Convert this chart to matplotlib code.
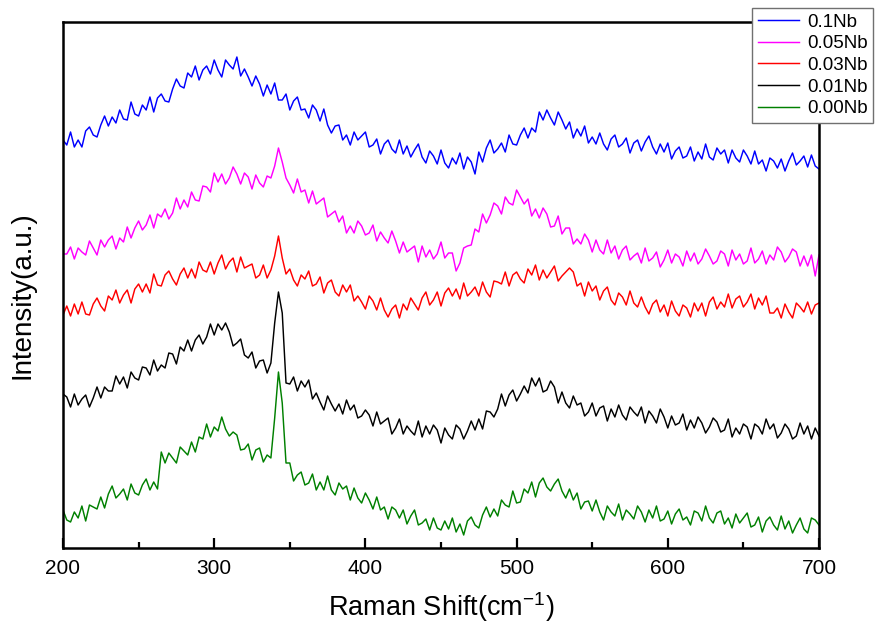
import numpy as np
import matplotlib
matplotlib.use("Agg")
import matplotlib.pyplot as plt
from matplotlib.ticker import MultipleLocator

plt.rcParams['font.family'] = ['Liberation Sans', 'DejaVu Sans']
plt.rcParams['mathtext.fontset'] = 'custom'
plt.rcParams['mathtext.rm'] = 'Liberation Sans'
plt.rcParams['mathtext.it'] = 'Liberation Sans'

# Raman shift axis (cm^-1), one sample every 2.5 cm^-1
shift = np.arange(200, 700.1, 2.5)

nb_010 = [408, 403, 416, 401, 408, 401, 417, 421, 413, 411,
          423, 432, 422, 431, 425, 438, 429, 428, 446, 434,
          432, 443, 438, 451, 436, 450, 454, 447, 446, 459,
          469, 462, 460, 475, 471, 482, 468, 478, 482, 474,
          488, 478, 471, 488, 483, 479, 491, 472, 479, 471,
          462, 472, 464, 452, 463, 454, 465, 448, 448, 454,
          438, 447, 451, 438, 439, 430, 443, 438, 427, 439,
          423, 415, 422, 423, 408, 413, 403, 416, 408, 412,
          416, 401, 403, 409, 394, 404, 408, 399, 395, 408,
          394, 402, 391, 398, 404, 391, 385, 397, 392, 384,
          398, 385, 380, 390, 384, 395, 379, 391, 386, 374,
          396, 386, 400, 408, 395, 399, 405, 396, 413, 404,
          403, 413, 420, 410, 420, 416, 436, 428, 438, 430,
          423, 436, 428, 419, 426, 410, 419, 412, 422, 405,
          411, 404, 415, 404, 398, 409, 413, 401, 404, 410,
          395, 405, 408, 397, 406, 412, 401, 394, 404, 396,
          405, 389, 397, 401, 390, 392, 401, 387, 396, 389,
          404, 391, 388, 400, 394, 398, 385, 398, 390, 386,
          398, 392, 384, 397, 384, 388, 377, 390, 387, 380,
          389, 377, 387, 395, 383, 387, 392, 381, 393, 382,
          379]

nb_005 = [294, 294, 301, 289, 300, 296, 293, 307, 300, 293,
          308, 301, 308, 312, 299, 310, 306, 321, 310, 320,
          327, 318, 323, 333, 320, 334, 331, 339, 329, 335,
          350, 339, 348, 341, 356, 348, 347, 362, 361, 356,
          375, 366, 374, 364, 370, 381, 374, 364, 375, 371,
          359, 373, 365, 361, 372, 370, 382, 400, 386, 370,
          363, 355, 369, 356, 358, 345, 357, 344, 347, 350,
          331, 334, 337, 326, 332, 315, 322, 315, 327, 322,
          313, 315, 323, 307, 316, 310, 305, 317, 307, 295,
          306, 296, 299, 302, 286, 302, 291, 298, 289, 294,
          306, 290, 295, 295, 277, 285, 300, 302, 303, 319,
          316, 334, 325, 333, 345, 342, 334, 351, 345, 343,
          358, 351, 344, 349, 332, 339, 330, 340, 334, 321,
          322, 332, 314, 320, 320, 304, 309, 304, 314, 308,
          296, 308, 298, 294, 308, 295, 302, 289, 298, 302,
          288, 292, 295, 285, 300, 287, 290, 296, 281, 288,
          298, 285, 294, 291, 282, 297, 287, 295, 284, 289,
          299, 292, 284, 287, 297, 294, 282, 298, 288, 294,
          284, 287, 300, 285, 289, 297, 284, 293, 288, 301,
          296, 286, 291, 299, 296, 282, 292, 282, 293, 272,
          293]

nb_003 = [233, 242, 232, 244, 234, 246, 234, 233, 244, 250,
          242, 237, 252, 248, 258, 245, 253, 258, 245, 259,
          264, 256, 264, 255, 274, 263, 262, 273, 277, 269,
          263, 274, 280, 270, 279, 270, 286, 278, 276, 286,
          274, 285, 293, 279, 286, 290, 276, 291, 280, 282,
          284, 270, 273, 283, 270, 278, 292, 312, 290, 274,
          279, 268, 262, 273, 269, 277, 262, 264, 271, 255,
          265, 268, 256, 252, 263, 256, 263, 247, 252, 246,
          239, 252, 247, 238, 250, 238, 231, 239, 243, 230,
          244, 238, 250, 244, 238, 250, 256, 243, 248, 256,
          242, 255, 260, 252, 259, 249, 265, 252, 256, 261,
          252, 266, 256, 251, 267, 266, 264, 276, 262, 273,
          276, 269, 265, 279, 273, 283, 268, 278, 270, 276,
          282, 267, 272, 276, 280, 276, 262, 265, 252, 266,
          257, 262, 248, 257, 261, 248, 243, 255, 251, 243,
          257, 245, 241, 251, 241, 234, 244, 248, 236, 243,
          232, 247, 237, 232, 243, 240, 231, 245, 237, 245,
          232, 246, 251, 239, 246, 241, 254, 240, 249, 252,
          241, 246, 254, 239, 250, 243, 252, 235, 235, 240,
          230, 244, 236, 230, 245, 241, 236, 246, 234, 243,
          245]

nb_001 = [154, 151, 141, 154, 143, 149, 153, 141, 150, 161,
          150, 161, 157, 157, 172, 164, 171, 160, 176, 170,
          168, 181, 180, 173, 188, 177, 183, 180, 195, 194,
          184, 201, 197, 208, 197, 208, 213, 204, 211, 224,
          213, 224, 218, 225, 216, 202, 205, 209, 193, 190,
          196, 180, 187, 188, 175, 185, 225, 256, 235, 165,
          164, 171, 157, 167, 161, 168, 149, 155, 146, 138,
          152, 144, 137, 144, 134, 148, 138, 143, 130, 132,
          138, 133, 122, 136, 124, 127, 130, 114, 120, 129,
          114, 122, 117, 113, 127, 111, 122, 114, 123, 118,
          105, 120, 113, 109, 123, 119, 109, 117, 127, 118,
          129, 119, 137, 136, 131, 139, 154, 142, 153, 158,
          147, 154, 162, 155, 170, 162, 170, 156, 158, 167,
          161, 145, 156, 145, 140, 152, 143, 145, 132, 136,
          145, 132, 140, 142, 127, 139, 131, 143, 133, 128,
          141, 136, 132, 141, 125, 137, 132, 125, 139, 131,
          120, 132, 123, 125, 134, 118, 128, 120, 131, 125,
          115, 121, 130, 126, 116, 118, 129, 111, 120, 114,
          124, 121, 109, 124, 121, 114, 129, 119, 124, 110,
          115, 124, 119, 109, 112, 125, 114, 122, 109, 120,
          112]

nb_000 = [38, 28, 26, 36, 30, 42, 27, 43, 41, 39,
          51, 40, 54, 62, 50, 54, 59, 48, 64, 55,
          53, 63, 69, 58, 66, 59, 96, 85, 95, 90,
          85, 101, 97, 93, 106, 96, 111, 109, 124, 111,
          121, 117, 131, 119, 112, 116, 113, 98, 99, 104,
          88, 98, 100, 86, 93, 90, 130, 176, 145, 85,
          85, 67, 73, 76, 63, 65, 74, 58, 66, 58,
          72, 58, 53, 65, 59, 62, 48, 60, 50, 45,
          55, 48, 39, 51, 38, 41, 29, 41, 38, 30,
          38, 24, 32, 38, 23, 25, 29, 18, 30, 20,
          18, 27, 19, 30, 16, 24, 13, 27, 31, 23,
          20, 33, 41, 31, 39, 32, 48, 43, 41, 57,
          45, 46, 59, 55, 66, 51, 65, 70, 61, 57,
          64, 69, 57, 50, 59, 48, 55, 39, 46, 47,
          37, 48, 36, 28, 42, 36, 32, 44, 28, 38,
          34, 29, 42, 36, 26, 38, 30, 42, 27, 29,
          37, 24, 34, 39, 28, 31, 23, 37, 35, 27,
          42, 30, 25, 35, 37, 24, 30, 20, 34, 25,
          30, 35, 21, 23, 31, 16, 27, 31, 23, 18,
          32, 19, 27, 15, 23, 30, 19, 15, 30, 28,
          23]

labels = ['0.1Nb', '0.05Nb', '0.03Nb', '0.01Nb', '0.00Nb']
colors = ['#0000ff', '#ff00ff', '#ff0000', '#000000', '#008000']
series = [nb_010, nb_005, nb_003, nb_001, nb_000]

fig = plt.figure(figsize=(8.76, 6.29), dpi=100)
ax = fig.add_axes([63 / 876, 81 / 629, 756 / 876, 526 / 629])

for y, lab, c in zip(series, labels, colors):
    n = min(len(shift), len(y))
    ax.plot(shift[:n], y[:n], color=c, lw=1.05, label=lab)

ax.set_xlim(200, 700)
ax.set_ylim(0, 526)
ax.xaxis.set_major_locator(MultipleLocator(100))
ax.xaxis.set_minor_locator(MultipleLocator(50))
ax.set_yticks([])
ax.tick_params(axis='x', which='major', direction='in', length=7, width=1.6,
               labelsize=15, pad=8, top=False)
ax.tick_params(axis='x', which='minor', direction='in', length=4, width=1.6, top=False)
for s in ax.spines.values():
    s.set_linewidth(1.8)

ax.set_xlabel('Raman Shift(cm$^{-1}$)', fontsize=19.5, labelpad=9)
ax.set_ylabel('Intensity(a.u.)', fontsize=20)
ax.yaxis.set_label_coords(-0.037, 0.48)

leg = ax.legend(loc='upper right', bbox_to_anchor=(873 / 876, 1 - 8 / 629),
                bbox_transform=fig.transFigure, fontsize=13.5, fancybox=False,
                framealpha=1, edgecolor='#707070', handlelength=2.2,
                handletextpad=0.4, labelspacing=0.24, borderpad=0.3,
                borderaxespad=0)
leg.get_frame().set_linewidth(1.0)

fig.savefig('out.png', dpi=100)
